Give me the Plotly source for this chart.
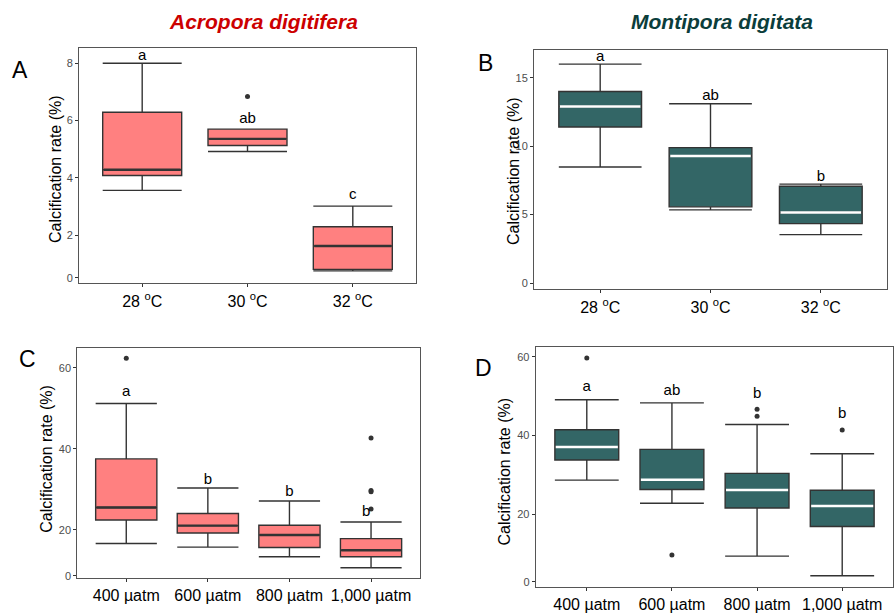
import plotly.graph_objects as go

# ---------------- data ----------------
temp_labels = ["28 <sup>o</sup>C", "30 <sup>o</sup>C", "32 <sup>o</sup>C"]
co2_labels = ["400 µatm", "600 µatm", "800 µatm", "1,000 µatm"]

# Panel A - Acropora digitifera, temperature
A_low = [3.56, 4.92, 0.75]
A_q1 = [4.08, 5.13, 0.80]
A_med = [4.28, 5.36, 1.62]
A_q3 = [6.29, 5.70, 2.29]
A_high = [8.00, 5.70, 3.01]
A_out_x = [1]
A_out_y = [6.84]
A_letters = ["a", "ab", "c"]
A_letter_y = [8.26, 6.06, 3.38]

# Panel B - Montipora digitata, temperature
B_low = [8.48, 5.35, 3.54]
B_q1 = [11.4, 5.57, 4.34]
B_med = [12.9, 9.28, 5.16]
B_q3 = [14.0, 9.90, 7.08]
B_high = [16.0, 13.1, 7.23]
B_out_x = []
B_out_y = []
B_letters = ["a", "ab", "b"]
B_letter_y = [16.5, 13.66, 7.73]

# Panel C - Acropora digitifera, pCO2
C_low = [16.6, 15.7, 13.3, 10.6]
C_q1 = [22.4, 19.2, 15.6, 13.3]
C_med = [25.5, 21.0, 18.7, 14.9]
C_q3 = [37.5, 24.0, 21.1, 17.8]
C_high = [51.2, 30.3, 27.1, 21.9]
C_out_x = [0, 3, 3, 3, 3]
C_out_y = [62.4, 42.7, 29.7, 29.4, 25.1]
C_letters = ["a", "b", "b", "b"]
C_letter_y = [54.0, 32.3, 29.2, 24.3]
C_letter_dx = [0, 0, 0, -0.06]

# Panel D - Montipora digitata, pCO2
D_low = [28.7, 22.8, 9.4, 4.4]
D_q1 = [33.8, 26.3, 21.6, 16.9]
D_med = [37.1, 28.8, 26.2, 22.1]
D_q3 = [41.5, 36.5, 30.4, 26.1]
D_high = [49.1, 48.3, 42.8, 35.4]
D_out_x = [0, 1, 2, 2, 3]
D_out_y = [59.7, 9.7, 46.7, 44.9, 41.4]
D_letters = ["a", "ab", "b", "b"]
D_letter_y = [52.2, 51.3, 50.4, 45.4]

# y tick labels (as printed in the figure)
A_ticks = [0.51, 2, 4, 6, 8]
B_ticks = [0, 5, 10, 15]
C_ticks = [8.6, 20, 40, 60]
D_ticks = [2.9, 20, 40, 60]
A_ticktext = ["0", "2", "4", "6", "8"]
B_ticktext = ["0", "5", "10", "15"]
C_ticktext = ["0", "20", "40", "60"]
D_ticktext = ["0", "20", "40", "60"]

# ---------------- style ----------------
SALMON = "#FF8080"
TEAL = "#336666"
DARK = "#333333"
FONT = "Liberation Sans, Arial, sans-serif"
BOXW = 0.75

fig = go.Figure()

panels = [
    dict(ax="", low=A_low, q1=A_q1, med=A_med, q3=A_q3, high=A_high, ox=A_out_x, oy=A_out_y,
         letters=A_letters, ly=A_letter_y, ldx=[0, 0, 0], fill=SALMON, medc=DARK, n=3),
    dict(ax="2", low=B_low, q1=B_q1, med=B_med, q3=B_q3, high=B_high, ox=B_out_x, oy=B_out_y,
         letters=B_letters, ly=B_letter_y, ldx=[0, 0, 0], fill=TEAL, medc="white", n=3),
    dict(ax="3", low=C_low, q1=C_q1, med=C_med, q3=C_q3, high=C_high, ox=C_out_x, oy=C_out_y,
         letters=C_letters, ly=C_letter_y, ldx=C_letter_dx, fill=SALMON, medc=DARK, n=4),
    dict(ax="4", low=D_low, q1=D_q1, med=D_med, q3=D_q3, high=D_high, ox=D_out_x, oy=D_out_y,
         letters=D_letters, ly=D_letter_y, ldx=[0, 0, 0, 0], fill=TEAL, medc="white", n=4),
]

for p in panels:
    xa = "x" + p["ax"]
    ya = "y" + p["ax"]
    xs = list(range(p["n"]))
    fig.add_trace(go.Box(
        x=xs, q1=p["q1"], median=p["med"], q3=p["q3"],
        lowerfence=p["low"], upperfence=p["high"],
        width=BOXW, whiskerwidth=1, boxpoints=False,
        fillcolor=p["fill"], line=dict(color=DARK, width=1.4),
        xaxis=xa, yaxis=ya, showlegend=False, hoverinfo="skip",
    ))
    # median segments
    mx, my = [], []
    for i, m in enumerate(p["med"]):
        mx += [i - BOXW / 2 + 0.01, i + BOXW / 2 - 0.01, None]
        my += [m, m, None]
    fig.add_trace(go.Scatter(x=mx, y=my, mode="lines",
                             line=dict(color=p["medc"], width=2.4),
                             xaxis=xa, yaxis=ya, showlegend=False, hoverinfo="skip"))
    # outliers
    if p["ox"]:
        fig.add_trace(go.Scatter(x=p["ox"], y=p["oy"], mode="markers",
                                 marker=dict(color=DARK, size=5),
                                 xaxis=xa, yaxis=ya, showlegend=False, hoverinfo="skip"))
    # letters
    fig.add_trace(go.Scatter(x=[i + d for i, d in zip(xs, p["ldx"])], y=p["ly"],
                             mode="text", text=p["letters"],
                             textfont=dict(family=FONT, size=15, color="black"),
                             textposition="middle center",
                             xaxis=xa, yaxis=ya, showlegend=False, hoverinfo="skip"))

W, H = 896, 613


def dom_x(a, b):
    return [a / W, b / W]


def dom_y(top, bottom):
    return [1 - bottom / H, 1 - top / H]


def xax(domain, anchor, labels):
    n = len(labels)
    return dict(domain=domain, anchor=anchor, range=[-0.6, n - 1 + 0.6],
                tickvals=list(range(n)), ticktext=labels,
                tickfont=dict(family=FONT, size=16, color="black"),
                ticks="outside", ticklen=3, tickcolor=DARK,
                showline=True, linecolor="#555555", linewidth=1, mirror=True,
                showgrid=False, zeroline=False, fixedrange=True)


def yax(domain, anchor, rng, tv, tt):
    return dict(domain=domain, anchor=anchor, range=rng,
                tickvals=tv, ticktext=tt,
                tickfont=dict(family=FONT, size=11, color="#4d4d4d"),
                ticks="outside", ticklen=3, tickcolor=DARK,
                showline=True, linecolor="#555555", linewidth=1, mirror=True,
                showgrid=False, zeroline=False, fixedrange=True)


fig.update_layout(
    width=W, height=H,
    margin=dict(l=0, r=0, t=0, b=0),
    paper_bgcolor="white", plot_bgcolor="white",
    font=dict(family=FONT),
    xaxis=xax(dom_x(79, 416), "y", temp_labels),
    yaxis=yax(dom_y(49, 286.7), "x", [0.31, 8.52], A_ticks, A_ticktext),
    xaxis2=xax(dom_x(534, 887), "y2", temp_labels),
    yaxis2=yax(dom_y(51, 292.7), "x2", [-0.46, 17.0], B_ticks, B_ticktext),
    xaxis3=xax(dom_x(77.3, 420), "y3", co2_labels),
    yaxis3=yax(dom_y(351.7, 584.3), "x3", [8.15, 65.0], C_ticks, C_ticktext),
    xaxis4=xax(dom_x(535.7, 893.3), "y4", co2_labels),
    yaxis4=yax(dom_y(351, 593.3), "x4", [1.67, 62.5], D_ticks, D_ticktext),
)

annots = [
    dict(text="<b><i>Acropora digitifera</i></b>", x=263 / W, y=1 - 22 / H,
         font=dict(family=FONT, size=21, color="#CC0000")),
    dict(text="<b><i>Montipora digitata</i></b>", x=722 / W, y=1 - 22 / H,
         font=dict(family=FONT, size=21, color="#0B3D3B")),
    dict(text="A", x=20 / W, y=1 - 71 / H, font=dict(family=FONT, size=23, color="black")),
    dict(text="B", x=485 / W, y=1 - 64 / H, font=dict(family=FONT, size=23, color="black")),
    dict(text="C", x=27 / W, y=1 - 363 / H, font=dict(family=FONT, size=23, color="black")),
    dict(text="D", x=483 / W, y=1 - 372 / H, font=dict(family=FONT, size=23, color="black")),
    dict(text="Calcification rate (%)", x=55 / W, y=1 - 171 / H, textangle=-90,
         font=dict(family=FONT, size=16, color="black")),
    dict(text="Calcification rate (%)", x=513 / W, y=1 - 173 / H, textangle=-90,
         font=dict(family=FONT, size=16, color="black")),
    dict(text="Calcification rate (%)", x=47 / W, y=1 - 464 / H, textangle=-90,
         font=dict(family=FONT, size=16, color="black")),
    dict(text="Calcification rate (%)", x=505 / W, y=1 - 477 / H, textangle=-90,
         font=dict(family=FONT, size=16, color="black")),
]
for a in annots:
    a.update(xref="paper", yref="paper", xanchor="center", yanchor="middle", showarrow=False)
fig.update_layout(annotations=annots)

fig.write_html("out.html")
